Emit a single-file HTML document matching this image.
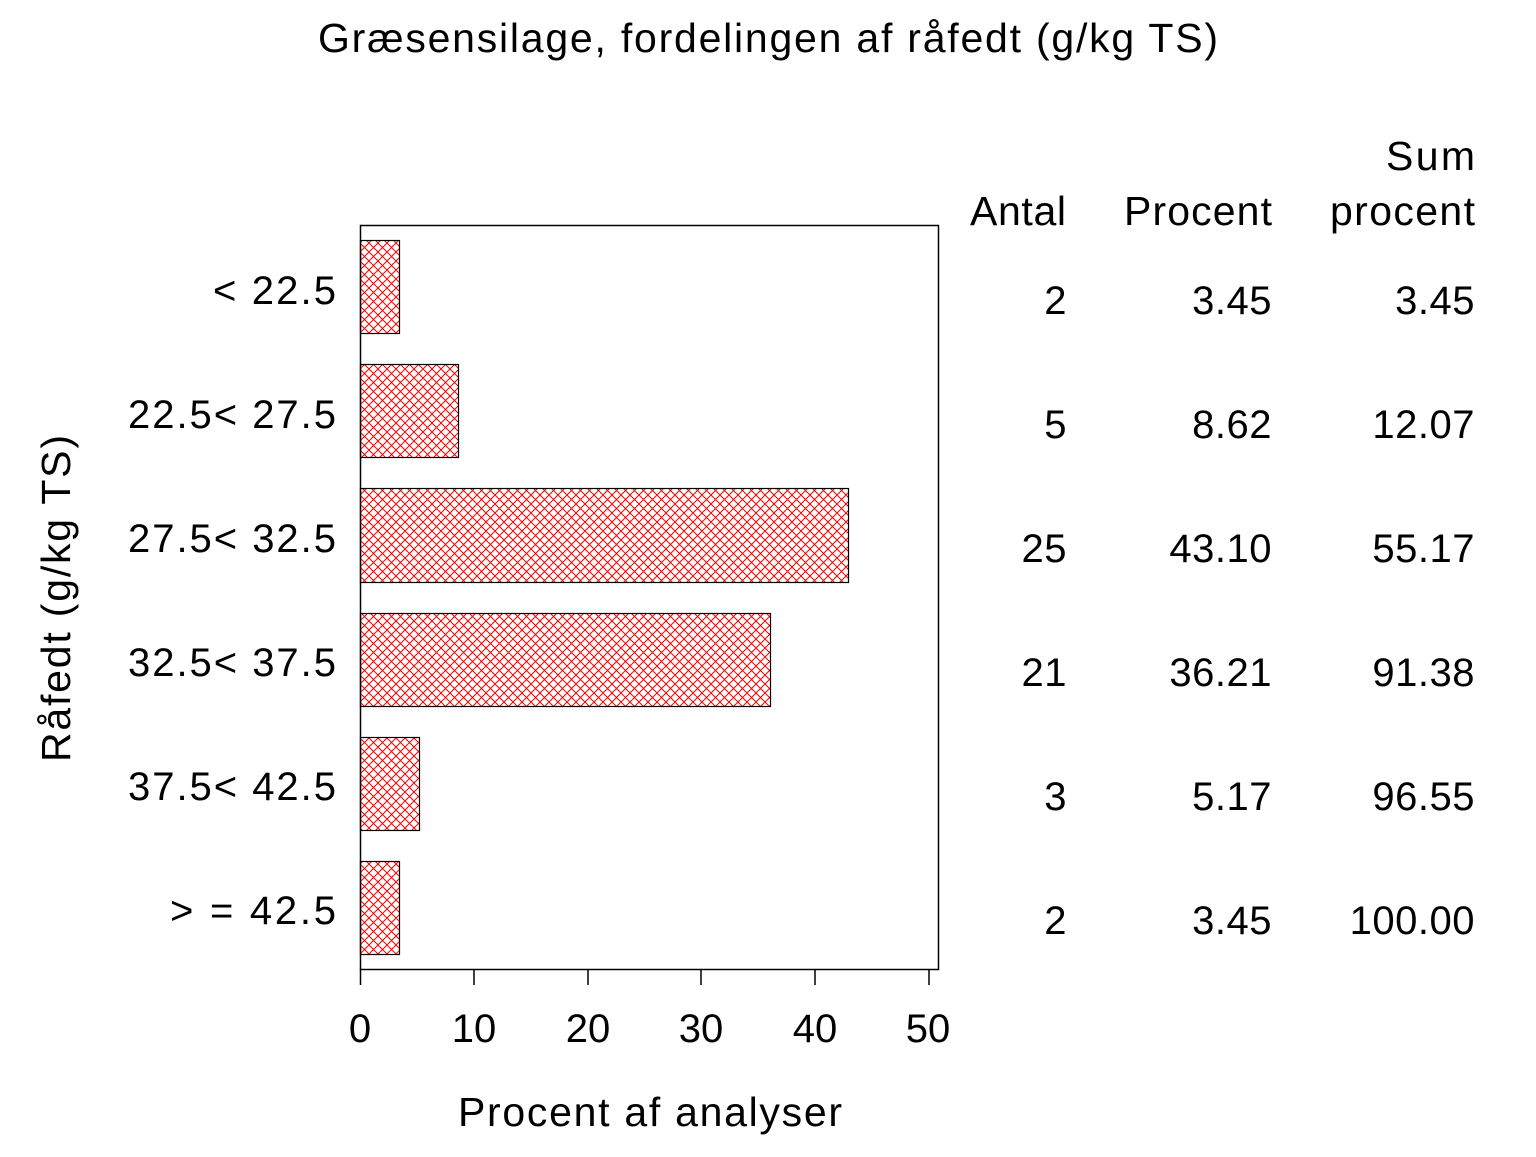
<!DOCTYPE html>
<html><head><meta charset="utf-8"><style>html,body{margin:0;padding:0;background:#fff}</style></head>
<body>
<svg width="1536" height="1152" xmlns="http://www.w3.org/2000/svg" font-family="Liberation Sans, Arial, sans-serif">
<defs>
<pattern id="h" width="9" height="9" patternUnits="userSpaceOnUse">
<path d="M0,0L9,9M9,0L0,9" stroke="#ff0000" stroke-width="1"/>
</pattern>
</defs>
<rect width="1536" height="1152" fill="#fff"/>
<text x="318" y="52" font-size="41" textLength="900" lengthAdjust="spacing">Græsensilage,  fordelingen  af  råfedt  (g/kg  TS)</text>
<rect x="360.5" y="225.5" width="578" height="744" fill="none" stroke="#000" stroke-width="1.5"/>
<g stroke="#000" stroke-width="1.5">
<line x1="360.5" y1="969" x2="360.5" y2="985"/>
<line x1="474" y1="969" x2="474" y2="985"/>
<line x1="588" y1="969" x2="588" y2="985"/>
<line x1="701" y1="969" x2="701" y2="985"/>
<line x1="815" y1="969" x2="815" y2="985"/>
<line x1="929" y1="969" x2="929" y2="985"/>
</g>
<g fill="url(#h)" stroke="#000" stroke-width="1.2">
<rect x="360.5" y="240.5" width="39" height="93"/>
<rect x="360.5" y="364.5" width="98" height="93"/>
<rect x="360.5" y="488.5" width="488" height="94"/>
<rect x="360.5" y="613.5" width="410" height="93"/>
<rect x="360.5" y="737.5" width="59" height="93"/>
<rect x="360.5" y="861.5" width="39" height="93"/>
</g>
<g font-size="40" text-anchor="middle">
<text x="360" y="1042">0</text><text x="474" y="1042">10</text><text x="588" y="1042">20</text>
<text x="701" y="1042">30</text><text x="815" y="1042">40</text><text x="928" y="1042">50</text>
</g>
<text x="458" y="1126" font-size="41" textLength="384" lengthAdjust="spacing">Procent  af  analyser</text>
<text transform="translate(70,762) rotate(-90)" font-size="41" textLength="327" lengthAdjust="spacing">Råfedt  (g/kg  TS)</text>
<g font-size="40">
<text x="213" y="304" textLength="123" lengthAdjust="spacing">&lt; 22.5</text>
<text x="128" y="428" textLength="208" lengthAdjust="spacing">22.5&lt; 27.5</text>
<text x="128" y="552" textLength="208" lengthAdjust="spacing">27.5&lt; 32.5</text>
<text x="128" y="676" textLength="208" lengthAdjust="spacing">32.5&lt; 37.5</text>
<text x="128" y="800" textLength="208" lengthAdjust="spacing">37.5&lt; 42.5</text>
<text x="170" y="924" textLength="166" lengthAdjust="spacing">&gt; = 42.5</text>
</g>
<g font-size="41">
<text x="1386" y="170" textLength="89" lengthAdjust="spacing">Sum</text>
<text x="970" y="225" textLength="96" lengthAdjust="spacing">Antal</text>
<text x="1124" y="225" textLength="148" lengthAdjust="spacing">Procent</text>
<text x="1330" y="225" textLength="145" lengthAdjust="spacing">procent</text>
</g>
<g font-size="40" text-anchor="end" letter-spacing="0.5">
<text x="1067" y="314">2</text><text x="1272" y="314">3.45</text><text x="1475" y="314">3.45</text>
<text x="1067" y="438">5</text><text x="1272" y="438">8.62</text><text x="1475" y="438">12.07</text>
<text x="1067" y="562">25</text><text x="1272" y="562">43.10</text><text x="1475" y="562">55.17</text>
<text x="1067" y="686">21</text><text x="1272" y="686">36.21</text><text x="1475" y="686">91.38</text>
<text x="1067" y="810">3</text><text x="1272" y="810">5.17</text><text x="1475" y="810">96.55</text>
<text x="1067" y="934">2</text><text x="1272" y="934">3.45</text><text x="1475" y="934">100.00</text>
</g>
</svg>
</body></html>
